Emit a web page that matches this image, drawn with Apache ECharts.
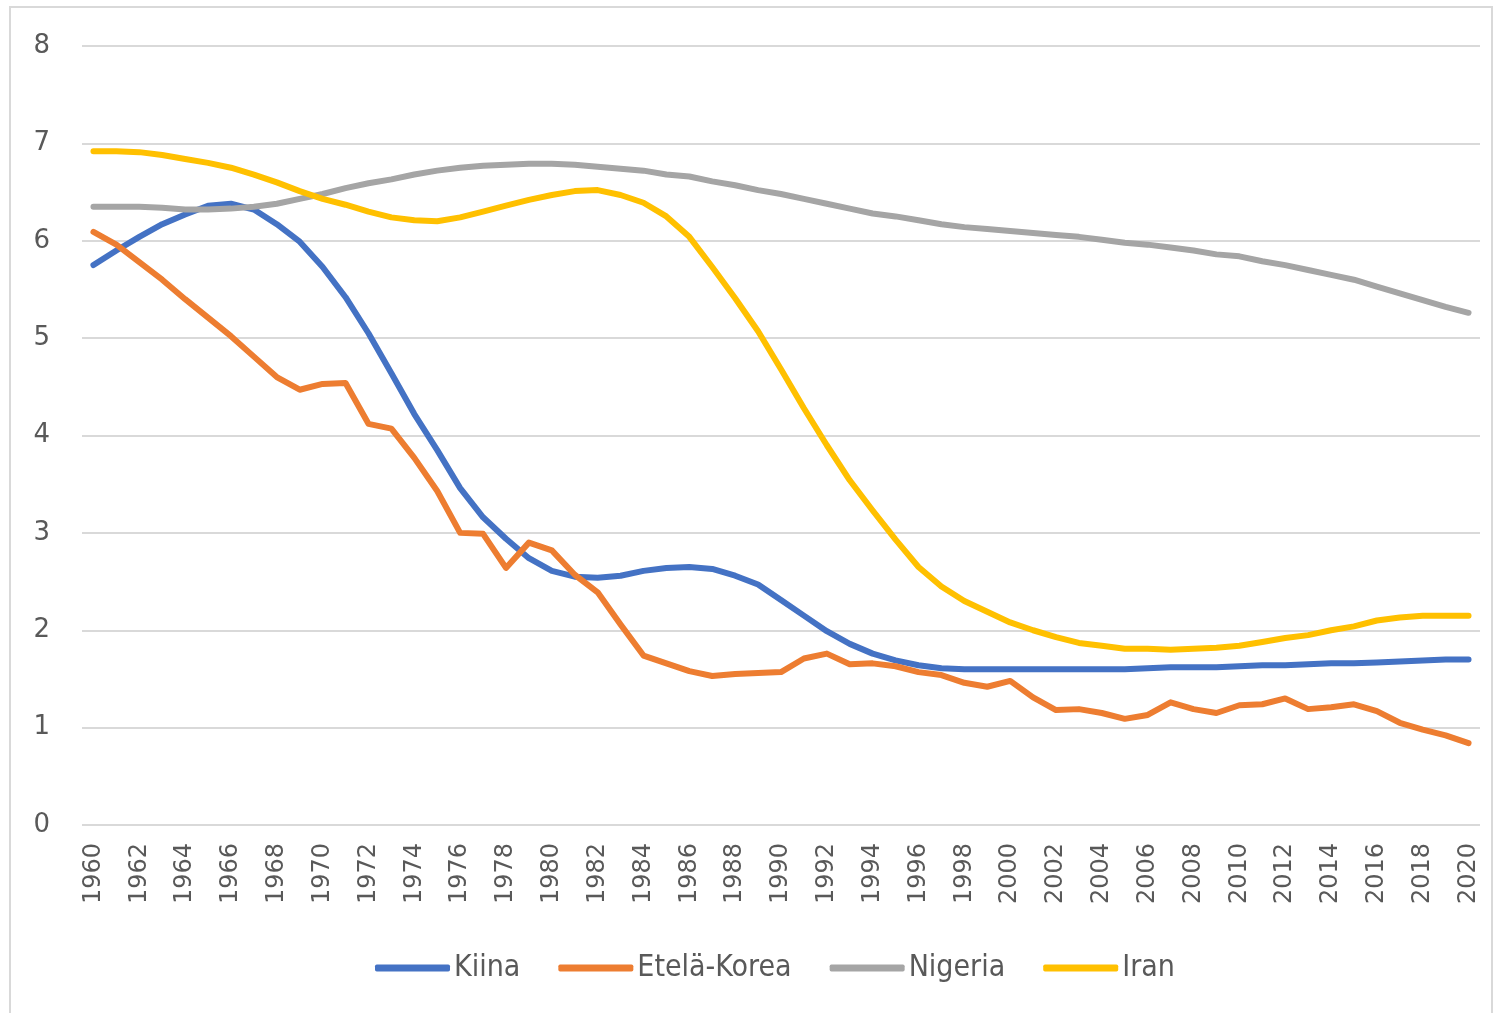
<!DOCTYPE html>
<html>
<head>
<meta charset="utf-8">
<script src="https://cdn.jsdelivr.net/npm/echarts@6/dist/echarts.min.js"></script>
<style>
  html, body { margin: 0; padding: 0; background: #fff; }
  #frame { position: absolute; left: 9px; top: 6px; width: 1484px; height: 1030px; border: 2px solid #d9d9d9; box-sizing: border-box; }
  #main { position: absolute; left: 0; top: 0; width: 1502px; height: 1013px; }
</style>
</head>
<body>
<div id="frame"></div>
<div id="main"></div>
<script>
// vuodet (kategoriat)
const years = [
  '1960','1961','1962','1963','1964','1965','1966','1967','1968','1969',
  '1970','1971','1972','1973','1974','1975','1976','1977','1978','1979',
  '1980','1981','1982','1983','1984','1985','1986','1987','1988','1989',
  '1990','1991','1992','1993','1994','1995','1996','1997','1998','1999',
  '2000','2001','2002','2003','2004','2005','2006','2007','2008','2009',
  '2010','2011','2012','2013','2014','2015','2016','2017','2018','2019',
  '2020'
];

const kiina = [
  5.75, 5.90, 6.04, 6.17, 6.27, 6.36, 6.38, 6.32, 6.17, 5.99,
  5.73, 5.42, 5.05, 4.64, 4.22, 3.85, 3.46, 3.16, 2.94, 2.74,
  2.61, 2.55, 2.54, 2.56, 2.61, 2.64, 2.65, 2.63, 2.56, 2.47,
  2.31, 2.15, 1.99, 1.86, 1.76, 1.69, 1.64, 1.61, 1.60, 1.60,
  1.60, 1.60, 1.60, 1.60, 1.60, 1.60, 1.61, 1.62, 1.62, 1.62,
  1.63, 1.64, 1.64, 1.65, 1.66, 1.66, 1.67, 1.68, 1.69, 1.70,
  1.70
];

const etelaKorea = [
  6.09, 5.96, 5.78, 5.60, 5.40, 5.21, 5.02, 4.81, 4.60, 4.47,
  4.53, 4.54, 4.12, 4.07, 3.77, 3.43, 3.00, 2.99, 2.64, 2.90,
  2.82, 2.57, 2.39, 2.06, 1.74, 1.66, 1.58, 1.53, 1.55, 1.56,
  1.57, 1.71, 1.76, 1.65, 1.66, 1.63, 1.57, 1.54, 1.46, 1.42,
  1.48, 1.31, 1.18, 1.19, 1.15, 1.09, 1.13, 1.26, 1.19, 1.15,
  1.23, 1.24, 1.30, 1.19, 1.21, 1.24, 1.17, 1.05, 0.98, 0.92,
  0.84
];

const nigeria = [
  6.35, 6.35, 6.35, 6.34, 6.32, 6.32, 6.33, 6.35, 6.38, 6.43,
  6.48, 6.54, 6.59, 6.63, 6.68, 6.72, 6.75, 6.77, 6.78, 6.79,
  6.79, 6.78, 6.76, 6.74, 6.72, 6.68, 6.66, 6.61, 6.57, 6.52,
  6.48, 6.43, 6.38, 6.33, 6.28, 6.25, 6.21, 6.17, 6.14, 6.12,
  6.10, 6.08, 6.06, 6.04, 6.01, 5.98, 5.96, 5.93, 5.90, 5.86,
  5.84, 5.79, 5.75, 5.70, 5.65, 5.60, 5.53, 5.46, 5.39, 5.32,
  5.26
];

const iran = [
  6.92, 6.92, 6.91, 6.88, 6.84, 6.80, 6.75, 6.68, 6.60, 6.51,
  6.43, 6.37, 6.30, 6.24, 6.21, 6.20, 6.24, 6.30, 6.36, 6.42,
  6.47, 6.51, 6.52, 6.47, 6.39, 6.25, 6.04, 5.73, 5.41, 5.07,
  4.68, 4.28, 3.90, 3.54, 3.23, 2.93, 2.65, 2.45, 2.30, 2.19,
  2.08, 2.00, 1.93, 1.87, 1.84, 1.81, 1.81, 1.80, 1.81, 1.82,
  1.84, 1.88, 1.92, 1.95, 2.00, 2.04, 2.10, 2.13, 2.15, 2.15,
  2.15
];

const seriesNames = ['Kiina', 'Etelä-Korea', 'Nigeria', 'Iran'];
const colors = ['#4472C4', '#ED7D31', '#A5A5A5', '#FFC000'];

const textColor = '#595959';
const narrowFont = "'Liberation Sans Narrow', 'DejaVu Sans Condensed', sans-serif";

function lineSeries(name, data, color) {
  return {
    name: name,
    type: 'line',
    data: data,
    symbol: 'none',
    smooth: false,
    color: color,
    lineStyle: { width: 6, color: color, cap: 'round', join: 'round' }
  };
}

var myChart = echarts.init(document.getElementById('main'));
myChart.setOption({
  animation: false,
  color: colors,
  grid: { left: 82, right: 22, top: 46, bottom: 1013 - 825 },
  xAxis: {
    type: 'category',
    data: years,
    boundaryGap: true,
    axisLine: { show: false },
    axisTick: { show: false },
    axisLabel: {
      interval: 1,
      rotate: 90,
      margin: 18,
      color: textColor,
      fontFamily: 'DejaVu Sans',
      fontSize: 24
    }
  },
  yAxis: {
    type: 'value',
    min: 0,
    max: 8,
    interval: 1,
    axisLine: { show: false },
    axisTick: { show: false },
    axisLabel: {
      margin: 32,
      color: textColor,
      fontFamily: 'DejaVu Sans',
      fontSize: 26
    },
    splitLine: { lineStyle: { color: '#d9d9d9', width: 2 } }
  },
  legend: {
    data: seriesNames,
    left: 370,
    top: 948,
    icon: 'roundRect',
    itemWidth: 75,
    itemHeight: 7,
    itemGap: 38,
    textStyle: { color: textColor, fontFamily: narrowFont, fontSize: 30, padding: [0, 0, 0, -1] }
  },
  series: [
    lineSeries(seriesNames[0], kiina, colors[0]),
    lineSeries(seriesNames[1], etelaKorea, colors[1]),
    lineSeries(seriesNames[2], nigeria, colors[2]),
    lineSeries(seriesNames[3], iran, colors[3])
  ]
});
</script>
</body>
</html>
